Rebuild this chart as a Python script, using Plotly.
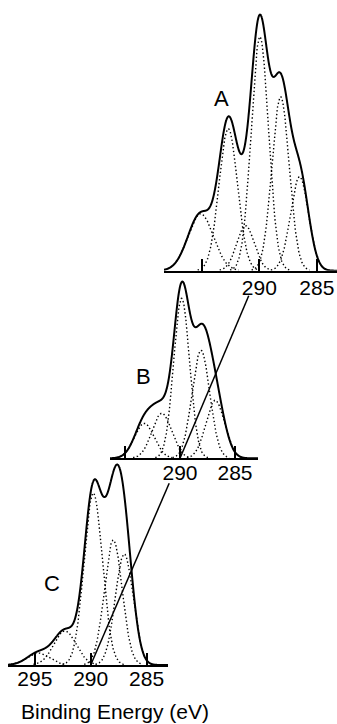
import numpy as np
import plotly.graph_objects as go

W, H = 337, 724

# C 1s component fits: peak position (eV), intensity (arb. units), FWHM (eV)
a_pos = [295.1, 292.7, 291.2, 289.95, 288.15, 286.5]
a_amp = [57, 142, 45, 234, 174, 94]
a_fwhm = [2.6, 1.9, 1.8, 1.77, 1.77, 1.85]

b_pos = [293.25, 291.65, 289.85, 288.1, 286.8]
b_amp = [35, 45, 160, 108, 58]
b_fwhm = [2.1, 2.1, 1.7, 1.9, 2.0]

c_pos = [294.7, 292.3, 289.77, 287.98, 287.0]
c_amp = [12, 34, 172, 125, 111]
c_fwhm = [2.35, 2.35, 1.93, 1.88, 1.88]

tick_vals = [295, 290, 285]
tick_text_ab = ["", "290", "285"]
tick_text_c = ["295", "290", "285"]

# Panel placement in pixels: left/right edge of the energy axis, where 290 eV
# sits, pixels per eV, baseline row and plot height
panels = [
    dict(name="A", pos=a_pos, amp=a_amp, fwhm=a_fwhm, left=164, right=337,
         x290=259.3, ppe=11.5, base=270.7, height=270.7, ticktext=tick_text_ab,
         standoff=-3, label=(293.27, 172)),
    dict(name="B", pos=b_pos, amp=b_amp, fwhm=b_fwhm, left=110, right=258,
         x290=180.0, ppe=11.0, base=458.3, height=190, ticktext=tick_text_ab,
         standoff=-6, label=(293.34, 82)),
    dict(name="C", pos=c_pos, amp=c_amp, fwhm=c_fwhm, left=8, right=168,
         x290=90.7, ppe=11.17, base=665.0, height=210, ticktext=tick_text_c,
         standoff=-6, label=(293.49, 82)),
]

FONT = "Liberation Sans"
fig = go.Figure()
layout = dict(
    width=W, height=H, margin=dict(l=0, r=0, t=0, b=0),
    paper_bgcolor="white", plot_bgcolor="rgba(0,0,0,0)", showlegend=False,
)
annotations = []


def gauss(x, c, a, fwhm):
    s = fwhm / 2.3548
    return a * np.exp(-((x - c) ** 2) / (2 * s * s))


for i, p in enumerate(panels, start=1):
    e_left = 290 + (p["x290"] - p["left"]) / p["ppe"]
    e_right = 290 - (p["right"] - p["x290"]) / p["ppe"]
    p["e_left"], p["e_right"] = e_left, e_right
    xs = np.linspace(e_left, e_right, 700)
    xa = "x" if i == 1 else f"x{i}"
    ya = "y" if i == 1 else f"y{i}"

    total = np.zeros_like(xs)
    for c, a, f in zip(p["pos"], p["amp"], p["fwhm"]):
        g = gauss(xs, c, a, f)
        total += g
        gd = np.where(g > 0.6, g, np.nan)
        fig.add_trace(go.Scatter(
            x=xs, y=gd, mode="lines", xaxis=xa, yaxis=ya, hoverinfo="skip",
            line=dict(color="black", width=1.4, dash="1.4px,2.4px"),
        ))
    fig.add_trace(go.Scatter(
        x=xs, y=total, mode="lines", xaxis=xa, yaxis=ya, hoverinfo="skip",
        line=dict(color="black", width=2.0, shape="spline"),
    ))

    xkey = "xaxis" if i == 1 else f"xaxis{i}"
    ykey = "yaxis" if i == 1 else f"yaxis{i}"
    layout[xkey] = dict(
        domain=[p["left"] / W, p["right"] / W], range=[e_left, e_right],
        anchor=ya, showline=True, linecolor="black", linewidth=2,
        showgrid=False, zeroline=False, ticks="inside", ticklen=12,
        tickwidth=2, tickcolor="black", tickvals=tick_vals,
        ticktext=p["ticktext"], ticklabelstandoff=p["standoff"],
        tickfont=dict(family=FONT, size=21, color="black"),
    )
    layout[ykey] = dict(
        domain=[1 - p["base"] / H, 1 - (p["base"] - p["height"]) / H],
        range=[0, p["height"]], anchor=xa, visible=False,
    )
    annotations.append(dict(
        x=p["label"][0], y=p["label"][1], xref=xa, yref=ya, text=p["name"],
        showarrow=False, xanchor="center", yanchor="middle",
        font=dict(family=FONT, size=22, color="black"),
    ))


def px_of(p, e):
    return p["left"] + (e - p["e_left"]) / (p["e_right"] - p["e_left"]) * (p["right"] - p["left"])


# Lines linking the 290 eV mark of each spectrum to the next one down
shapes = []
for upper, lower in zip(panels[:-1], panels[1:]):
    x0, y0 = px_of(upper, 290), upper["base"]
    x1, y1 = px_of(lower, 290), lower["base"]
    t = 25.0 / (y1 - y0)
    xs0, ys0 = x0 + (x1 - x0) * t, y0 + (y1 - y0) * t
    shapes.append(dict(
        type="line", xref="paper", yref="paper",
        x0=xs0 / W, y0=1 - ys0 / H, x1=x1 / W, y1=1 - y1 / H,
        line=dict(color="black", width=1.5),
    ))

annotations.append(dict(
    x=115 / W, y=1 - 711 / H, xref="paper", yref="paper",
    text="Binding Energy (eV)", showarrow=False,
    xanchor="center", yanchor="middle",
    font=dict(family=FONT, size=21, color="black"),
))

layout["annotations"] = annotations
layout["shapes"] = shapes
fig.update_layout(**layout)
fig.write_html("out.html")
